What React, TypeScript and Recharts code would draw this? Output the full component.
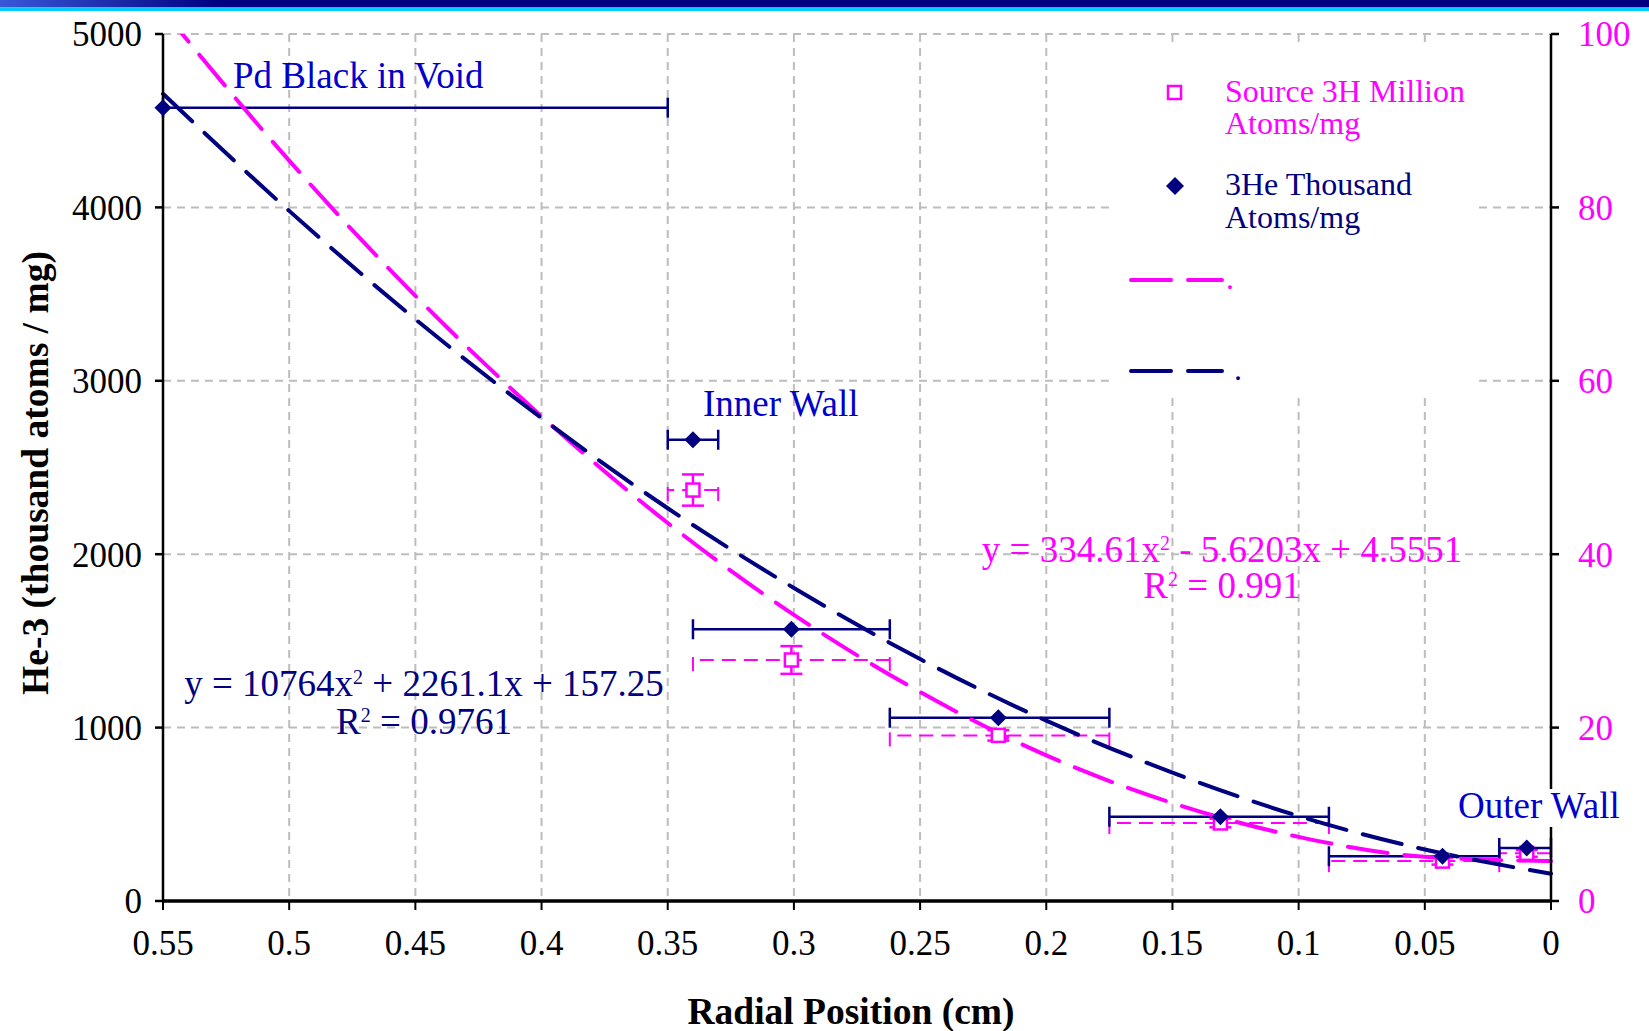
import React from 'react';
import { ComposedChart, Scatter, Line, XAxis, YAxis, CartesianGrid, ErrorBar } from 'recharts';

const FONT = "'Liberation Serif', 'Times New Roman', Times, serif";
const NAVY = '#000080';
const MAGENTA = '#FF00FF';
const LABEL_BLUE = '#0000CC';
const GRID = '#bdbdbd';

// axis ticks
const radialTicks = [0.55, 0.5, 0.45, 0.4, 0.35, 0.3, 0.25, 0.2, 0.15, 0.1, 0.05, 0];
const heTicks = [0, 1000, 2000, 3000, 4000, 5000];
const tritiumTicks = [0, 20, 40, 60, 80, 100];
const tritiumMax = 100;

// measured samples (radial position, cm)
const samplePositions = [0.55, 0.34, 0.301, 0.219, 0.131, 0.043, 0.0096];
const binInner = [0.55, 0.35, 0.34, 0.262, 0.175, 0.088, 0.0205];
const binOuter = [0.35, 0.33, 0.262, 0.175, 0.088, 0.0205, 0];
const he3Values = [4575, 2660, 1567, 1057, 486, 258, 306];
const tritiumValues = [102.5, 47.4, 27.8, 19.1, 9.0, 4.6, 5.5];
const tritiumErrors = [1.8, 1.8, 1.6, 0.6, 0.5, 0.4, 0.4];

// trend lines
const trendPositions = [0.55, 0.5, 0.45, 0.4, 0.35, 0.3, 0.25, 0.2, 0.15, 0.1, 0.05, 0];
const he3Trend = [4655, 3980, 3355, 2785, 2265, 1805, 1395, 1040, 740, 490, 297, 157];
const tritiumTrend = [102.7, 85.4, 69.8, 55.9, 43.6, 33.0, 24.1, 16.8, 11.3, 7.4, 5.1, 4.6];

const heData = samplePositions.map((x, i) => ({
  x,
  y: he3Values[i],
  xErr: [x - binOuter[i], binInner[i] - x],
}));
// the first tritium sample lies above the right axis range and is clipped off the plot
const tritiumData = samplePositions
  .map((x, i) => ({
    x,
    y: tritiumValues[i],
    xErr: [x - binOuter[i], binInner[i] - x],
    yErr: tritiumErrors[i],
  }))
  .filter((d) => d.y <= tritiumMax);
const heTrendData = trendPositions.map((x, i) => ({ x, y: he3Trend[i] }));
const tritiumTrendData = trendPositions.map((x, i) => ({ x, y: tritiumTrend[i] }));

const Diamond = (p: any) => {
  const { cx, cy } = p;
  const r = 8.5;
  return (
    <polygon
      points={`${cx},${cy - r} ${cx + r},${cy} ${cx},${cy + r} ${cx - r},${cy}`}
      fill={NAVY}
    />
  );
};

const Square = (p: any) => {
  const { cx, cy } = p;
  return (
    <rect x={cx - 6.5} y={cy - 6.5} width={13} height={13} fill="#fff" stroke={MAGENTA} strokeWidth={2.5} />
  );
};

const tickFont = { fontSize: 35, fontFamily: FONT };

export default function App() {
  return (
    <div style={{ position: 'absolute', left: 0, top: 0, width: 1649, height: 1031, background: '#fff', overflow: 'hidden' }}>
      <ComposedChart width={1649} height={1031} margin={{ top: 34, right: 0, bottom: 70, left: 63 }}>
        <CartesianGrid yAxisId="left" stroke={GRID} strokeWidth={2} strokeDasharray="8 6" />
        <XAxis
          dataKey="x"
          type="number"
          domain={[0, 0.55]}
          reversed
          ticks={radialTicks}
          interval={0}
          height={60}
          tickSize={9}
          tickMargin={20}
          tick={{ ...tickFont, fill: '#000' }}
          axisLine={{ stroke: '#000', strokeWidth: 3.5 }}
          tickLine={{ stroke: '#000', strokeWidth: 2 }}
        />
        <YAxis
          yAxisId="left"
          dataKey="y"
          type="number"
          domain={[0, 5000]}
          ticks={heTicks}
          interval={0}
          width={100}
          tickSize={8}
          tickMargin={13}
          tick={{ ...tickFont, fill: '#000' }}
          axisLine={{ stroke: '#000', strokeWidth: 2.5 }}
          tickLine={{ stroke: '#000', strokeWidth: 2.5 }}
        />
        <YAxis
          yAxisId="right"
          orientation="right"
          dataKey="y"
          type="number"
          domain={[0, tritiumMax]}
          allowDataOverflow
          ticks={tritiumTicks}
          interval={0}
          width={98}
          tickSize={8}
          tickMargin={19}
          tick={{ ...tickFont, fill: MAGENTA, textAnchor: 'start' }}
          axisLine={{ stroke: '#000', strokeWidth: 2.5 }}
          tickLine={{ stroke: '#000', strokeWidth: 2.5 }}
        />
        <Scatter data={tritiumData} dataKey="y" yAxisId="right" shape={Square} isAnimationActive={false}>
          <ErrorBar dataKey="xErr" direction="x" width={11} stroke={MAGENTA} strokeWidth={2} strokeDasharray="14 8" isAnimationActive={false} />
          <ErrorBar dataKey="yErr" direction="y" width={11} stroke={MAGENTA} strokeWidth={2.5} isAnimationActive={false} />
        </Scatter>
        <Scatter data={heData} dataKey="y" yAxisId="left" shape={Diamond} isAnimationActive={false}>
          <ErrorBar dataKey="xErr" direction="x" width={10} stroke={NAVY} strokeWidth={2.5} isAnimationActive={false} />
        </Scatter>
        <Line
          data={tritiumTrendData}
          dataKey="y"
          yAxisId="right"
          type="monotone"
          stroke={MAGENTA}
          strokeWidth={4}
          strokeDasharray="40 17"
          strokeLinecap="round"
          dot={false}
          activeDot={false}
          isAnimationActive={false}
        />
        <Line
          data={heTrendData}
          dataKey="y"
          yAxisId="left"
          type="monotone"
          stroke={NAVY}
          strokeWidth={4}
          strokeDasharray="40 17"
          strokeLinecap="round"
          dot={false}
          activeDot={false}
          isAnimationActive={false}
        />
      </ComposedChart>

      <svg
        width={1649}
        height={1031}
        style={{ position: 'absolute', left: 0, top: 0, pointerEvents: 'none' }}
        fontFamily={FONT}
      >
        <defs>
          <linearGradient id="band" gradientUnits="userSpaceOnUse" x1="0" y1="0" x2="220" y2="0">
            <stop offset="0" stopColor="#3858d8" />
            <stop offset="1" stopColor="#000080" />
          </linearGradient>
        </defs>
        <rect x={0} y={0} width={1649} height={7.5} fill="url(#band)" />
        <rect x={0} y={7.5} width={1649} height={3.5} fill="#00CCFF" />

        {/* axis titles */}
        <text x={851} y={1024} textAnchor="middle" fontSize={37.5} fontWeight="bold" fill="#000">
          Radial Position (cm)
        </text>
        <text
          x={48}
          y={473}
          textAnchor="middle"
          fontSize={37.5}
          fontWeight="bold"
          fill="#000"
          transform="rotate(-90 48 473)"
        >
          He-3 (thousand atoms / mg)
        </text>

        {/* legend */}
        <rect x={1110} y={47} width={368} height={351} fill="#fff" />
        <rect x={1168} y={86} width={13} height={13} fill="#fff" stroke={MAGENTA} strokeWidth={2.5} />
        <text x={1225} y={102} fontSize={32} fill={MAGENTA}>Source 3H Million</text>
        <text x={1225} y={134} fontSize={32} fill={MAGENTA}>Atoms/mg</text>
        <polygon points="1175,177 1184,186 1175,195 1166,186" fill={NAVY} />
        <text x={1225} y={195} fontSize={32} fill={NAVY}>3He Thousand</text>
        <text x={1225} y={228} fontSize={32} fill={NAVY}>Atoms/mg</text>
        <line x1={1131} y1={280} x2={1222} y2={280} stroke={MAGENTA} strokeWidth={4} strokeDasharray="40 17" strokeLinecap="round" />
        <text x={1226} y={289} fontSize={32} fill={MAGENTA}>.</text>
        <line x1={1131} y1={371} x2={1222} y2={371} stroke={NAVY} strokeWidth={4} strokeDasharray="40 17" strokeLinecap="round" />
        <text x={1234} y={380} fontSize={32} fill={NAVY}>.</text>

        {/* annotations */}
        <text x={233} y={88} fontSize={37} fill={LABEL_BLUE}>Pd Black in Void</text>
        <text x={703} y={416} fontSize={37} fill={LABEL_BLUE}>Inner Wall</text>
        <rect x={1453} y={789} width={176} height={38} fill="#fff" />
        <text x={1458} y={818} fontSize={37} fill={LABEL_BLUE}>Outer Wall</text>

        {/* fit equations */}
        <text x={1222} y={562} textAnchor="middle" fontSize={37} fill={MAGENTA}>
          y = 334.61x<tspan fontSize={20} dy={-12}>2</tspan>
          <tspan dy={12}> - 5.6203x + 4.5551</tspan>
        </text>
        <text x={1222} y={598} textAnchor="middle" fontSize={37} fill={MAGENTA}>
          R<tspan fontSize={20} dy={-12}>2</tspan>
          <tspan dy={12}> = 0.991</tspan>
        </text>
        <text x={424} y={696} textAnchor="middle" fontSize={37} fill={NAVY}>
          y = 10764x<tspan fontSize={20} dy={-12}>2</tspan>
          <tspan dy={12}> + 2261.1x + 157.25</tspan>
        </text>
        <text x={424} y={734} textAnchor="middle" fontSize={37} fill={NAVY}>
          R<tspan fontSize={20} dy={-12}>2</tspan>
          <tspan dy={12}> = 0.9761</tspan>
        </text>
      </svg>
    </div>
  );
}
